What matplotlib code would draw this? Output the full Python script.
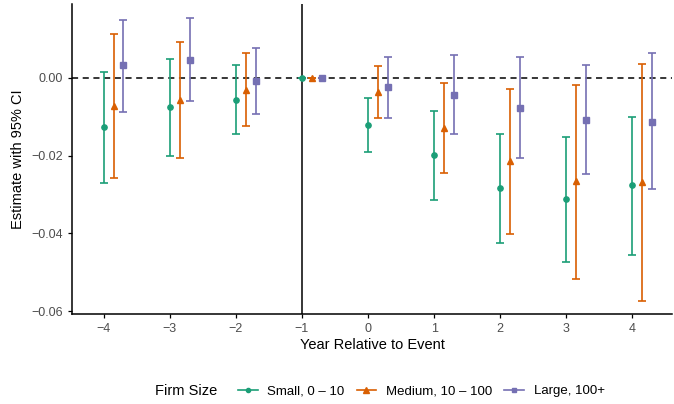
import numpy as np
import matplotlib
matplotlib.use("Agg")
import matplotlib.pyplot as plt
from matplotlib.lines import Line2D

plt.rcParams['font.family'] = ['Liberation Sans', 'DejaVu Sans']

years = [-4, -3, -2, -1, 0, 1, 2, 3, 4]
groups = ["Small, 0 \u2013 10", "Medium, 10 \u2013 100", "Large, 100+"]

small_est = [-0.0127, -0.0075, -0.0056, 0.0, -0.0121, -0.0199, -0.0283, -0.0312, -0.0276]
small_lo = [-0.0271, -0.0200, -0.0145, 0.0, -0.0191, -0.0314, -0.0424, -0.0474, -0.0455]
small_hi = [0.0015, 0.0049, 0.0032, 0.0, -0.0052, -0.0084, -0.0143, -0.0151, -0.0100]

medium_est = [-0.0073, -0.0056, -0.0030, 0.0, -0.0036, -0.0128, -0.0214, -0.0266, -0.0267]
medium_lo = [-0.0258, -0.0205, -0.0124, 0.0, -0.0104, -0.0244, -0.0401, -0.0516, -0.0573]
medium_hi = [0.0112, 0.0092, 0.0063, 0.0, 0.0030, -0.0014, -0.0029, -0.0017, 0.0035]

large_est = [0.0032, 0.0047, -0.0009, 0.0, -0.0024, -0.0043, -0.0077, -0.0108, -0.0113]
large_lo = [-0.0088, -0.0059, -0.0094, 0.0, -0.0102, -0.0145, -0.0207, -0.0246, -0.0286]
large_hi = [0.0150, 0.0154, 0.0076, 0.0, 0.0055, 0.0058, 0.0055, 0.0034, 0.0063]

colors = ["#1B9E77", "#D95F02", "#7570B3"]
markers = ["o", "^", "s"]
msizes = [3.8, 4.6, 4.3]
offsets = [0.0, 0.15, 0.3]

series = [
    (small_est, small_lo, small_hi),
    (medium_est, medium_lo, medium_hi),
    (large_est, large_lo, large_hi),
]

fig = plt.figure(figsize=(6.74, 4.04), dpi=100)
ax = fig.add_axes([0.107, 0.223, 0.89, 0.767])

ax.axhline(0, color="black", linestyle=(0, (4, 3)), linewidth=1.1, zorder=1)
ax.axvline(-1, color="black", linewidth=1.1, zorder=1)

x = np.array(years, dtype=float)
for (est, lo, hi), c, m, ms, off in zip(series, colors, markers, msizes, offsets):
    est = np.array(est)
    err = [est - np.array(lo), np.array(hi) - est]
    ax.errorbar(x + off, est, yerr=err, fmt=m, color=c, ecolor=c,
                markersize=ms, elinewidth=1.2, capsize=2.6, capthick=1.2,
                zorder=3)

ax.set_xlim(-4.477, 4.6)
ax.set_ylim(-0.0607, 0.019)
ax.set_xticks(years)
ax.set_xticklabels([str(v).replace("-", "\u2212") for v in years])
ax.set_yticks([0.0, -0.02, -0.04, -0.06])
ax.set_yticklabels(["0.00", "\u22120.02", "\u22120.04", "\u22120.06"])

for s in ["top", "right"]:
    ax.spines[s].set_visible(False)
for s in ["left", "bottom"]:
    ax.spines[s].set_linewidth(1.1)
ax.tick_params(colors="black", labelcolor="#4D4D4D", labelsize=9,
               length=3, width=0.9)

ax.set_xlabel("Year Relative to Event", fontsize=10.5, labelpad=2)
ax.set_ylabel("Estimate with 95% CI", fontsize=10.5, labelpad=5)

handles = [Line2D([0], [0], color=c, marker=m, markersize=ms - 0.8, linewidth=1.2)
           for c, m, ms in zip(colors, markers, msizes)]
fig.text(0.23, 0.032, "Firm Size", fontsize=10.5, va="center", ha="left")
fig.legend(handles, groups, loc="center left", bbox_to_anchor=(0.343, 0.032),
           ncol=3, frameon=False, fontsize=9.5, handlelength=1.5,
           handletextpad=0.75, columnspacing=0.9, borderpad=0)

fig.savefig("out.png", dpi=100)
